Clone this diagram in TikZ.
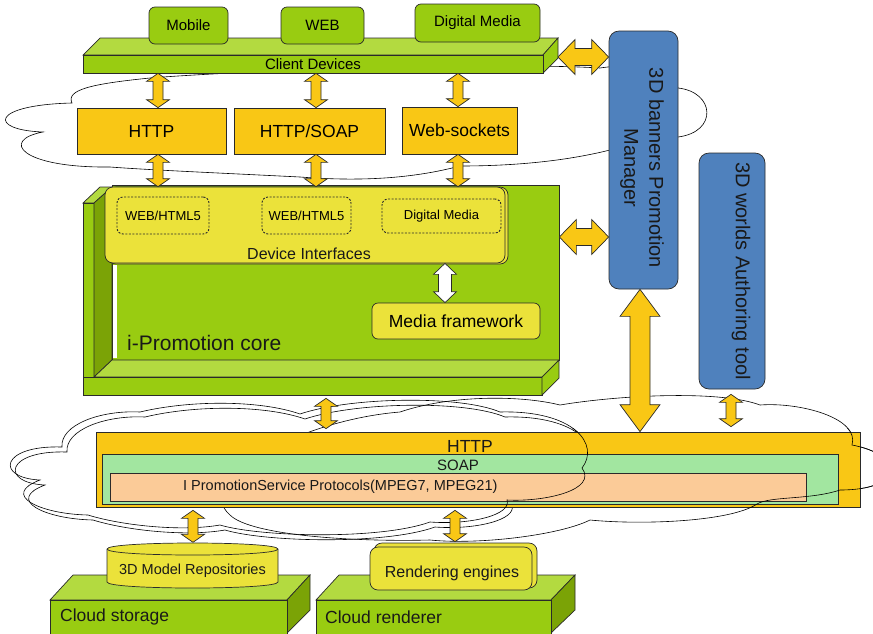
\documentclass[tikz,border=0pt]{standalone}
\usepackage{fontspec}
\setmainfont{Liberation Sans}
\usetikzlibrary{calc}
\definecolor{cgreen}{HTML}{99CC11}
\definecolor{cgreenlt}{HTML}{B3DA40}
\definecolor{cgreendk}{HTML}{7BA306}
\definecolor{corange}{HTML}{F9C715}
\definecolor{cyellow}{HTML}{EBE23A}
\definecolor{cblue}{HTML}{4F81BD}
\definecolor{csoap}{HTML}{A2E6A0}
\definecolor{cpeach}{HTML}{FBCB98}
\definecolor{cline}{HTML}{2A2A2A}
\tikzset{
 base/.style={draw=cline, line width=0.7pt},
 gbox/.style={base, fill=cgreen, rounded corners=6pt, inner sep=0pt},
 obox/.style={base, fill=corange, inner sep=0pt},
 ybox/.style={base, fill=cyellow, rounded corners=8pt, inner sep=0pt},
 dbox/.style={draw=cline, line width=0.9pt, dash pattern=on 2pt off 1.5pt, rounded corners=6pt, inner sep=0pt},
 bbox/.style={base, fill=cblue, rounded corners=10pt, inner sep=0pt},
 arrowfill/.style={base, fill=corange, line join=miter},
 warrow/.style={base, fill=white, line join=miter},
 cloudline/.style={draw=black, line width=0.6pt},
 topface/.style={base, fill=cgreenlt},
 frontface/.style={base, fill=cgreen},
 sideface/.style={base, fill=cgreendk},
 txt/.style={text=black!90, inner sep=0pt},
 f13/.style={font=\fontsize{13pt}{16pt}\selectfont},
 f14/.style={font=\fontsize{14.5pt}{17pt}\selectfont},
 f15/.style={font=\fontsize{15pt}{18pt}\selectfont},
 f16/.style={font=\fontsize{16pt}{19pt}\selectfont},
 f17/.style={font=\fontsize{17.5pt}{21pt}\selectfont},
 f20/.style={font=\fontsize{20pt}{25pt}\selectfont},
 f21/.style={font=\fontsize{21pt}{25pt}\selectfont},
}
% vertical double arrow: style, x, top point, bottom point, half shaft, half head, head length
\newcommand{\vdarrow}[7]{\draw[#1] let \p1=#3, \p2=#4 in (#2pt,\y1) -- (#2pt+#6pt,\y1-#7pt) -- (#2pt+#5pt,\y1-#7pt) -- (#2pt+#5pt,\y2+#7pt) -- (#2pt+#6pt,\y2+#7pt) -- (#2pt,\y2) -- (#2pt-#6pt,\y2+#7pt) -- (#2pt-#5pt,\y2+#7pt) -- (#2pt-#5pt,\y1-#7pt) -- (#2pt-#6pt,\y1-#7pt) -- cycle;}
% horizontal double arrow: style, y, left point, right point, half shaft, half head, head length
\newcommand{\hdarrow}[7]{\draw[#1] let \p1=#3, \p2=#4 in (\x1,-#2pt) -- (\x1+#7pt,-#2pt+#6pt) -- (\x1+#7pt,-#2pt+#5pt) -- (\x2-#7pt,-#2pt+#5pt) -- (\x2-#7pt,-#2pt+#6pt) -- (\x2,-#2pt) -- (\x2-#7pt,-#2pt-#6pt) -- (\x2-#7pt,-#2pt-#5pt) -- (\x1+#7pt,-#2pt-#5pt) -- (\x1+#7pt,-#2pt-#6pt) -- cycle;}
\newcommand{\cloudLpath}{(40,480) .. controls (-5,478) and (0,445) .. (62,447) .. controls (60,425) and (100,410) .. (140,412) .. controls (190,400) and (260,400) .. (300,414) .. controls (350,397) and (460,395) .. (500,412) .. controls (575,410) and (600,445) .. (582,468) .. controls (598,490) and (545,502) .. (507,500) .. controls (512,515) and (470,525) .. (430,522) .. controls (380,540) and (260,537) .. (220,525) .. controls (180,532) and (120,525) .. (88,515) .. controls (40,514) and (0,495) .. (40,480) -- cycle}
\newcommand{\cloudRpath}{(230,515) .. controls (190,480) and (300,420) .. (400,412) .. controls (450,395) and (520,395) .. (560,405) .. controls (620,395) and (720,390) .. (760,405) .. controls (800,402) and (860,418) .. (852,445) .. controls (905,455) and (905,490) .. (840,490) .. controls (810,500) and (770,496) .. (757,504) .. controls (730,522) and (640,525) .. (590,520) .. controls (560,535) and (480,545) .. (430,540) .. controls (350,542) and (250,535) .. (230,515) -- cycle}
\begin{document}
\begin{tikzpicture}[x=1pt,y=-1pt]
\useasboundingbox (0,0) rectangle (873,633);

% ---------- top cloud
\draw[cloudline] (43,132) .. controls (-12,130) and (-10,105) .. (72,103)
 .. controls (66,90) and (90,84) .. (150,78)
 .. controls (250,70) and (500,62) .. (600,68)
 .. controls (640,62) and (675,70) .. (678,88)
 .. controls (715,92) and (718,132) .. (678,137)
 .. controls (660,148) and (640,150) .. (610,150)
 .. controls (570,160) and (520,166) .. (460,166)
 .. controls (400,182) and (340,180) .. (300,177)
 .. controls (220,173) and (150,170) .. (110,167)
 .. controls (20,168) and (0,140) .. (43,132) -- cycle;

% ---------- client devices slab
\draw[topface] (83,55) -- (100,38) -- (558,38) -- (543,55) -- cycle;
\draw[frontface] (543,55) -- (558,38) -- (558,58) -- (543,73) -- cycle;
\node[frontface, minimum width=460, minimum height=18, inner sep=0pt, f15] (cd) at (313,64) {Client Devices};
\coordinate (cdright) at (558,57);

\node[gbox, minimum width=79, minimum height=37, f15] (mobile) at (188.5,25.5) {Mobile};
\node[gbox, minimum width=83, minimum height=37, f15] (web) at (322.5,25.5) {WEB};
\node[gbox, minimum width=125, minimum height=38, f15] (dm) at (477.5,23) {Digital Media};

% ---------- protocol boxes
\node[obox, minimum width=149, minimum height=46, f17] (http) at (151.5,131) {HTTP};
\node[obox, minimum width=151, minimum height=46, f17] (hs) at (309.5,131) {HTTP/SOAP};
\node[obox, minimum width=115, minimum height=47, f17] (ws) at (459.5,130.5) {Web-sockets};

% ---------- i-Promotion core
\node[frontface, minimum width=447, minimum height=175, inner sep=0pt] (corewall) at (335.5,272.5) {};
\fill[white] (112.5,265) rectangle (117,358);
\draw[topface] (83,203) -- (100,187) -- (112,187) -- (94,203) -- cycle;
\draw[frontface] (83,203) rectangle (94,377);
\draw[sideface] (94,203) -- (112,187) -- (112,360) -- (94,377) -- cycle;
\draw[topface] (94,377) -- (112,360) -- (559,360) -- (542,377) -- cycle;
\node[frontface, minimum width=459, minimum height=18, inner sep=0pt] (corefloor) at (312.5,386) {};
\draw[frontface] (542,377) -- (559,360) -- (559,378) -- (542,395) -- cycle;
\node[txt, anchor=west, f21] (coretxt) at (127,343) {i-Promotion core};

\draw[ybox] (108,187) rectangle (508,264);
\node[ybox, minimum width=400, minimum height=76] (di) at (305,225) {};
\node[txt, f16] (ditxt) at (309,254) {Device Interfaces};
\node[dbox, minimum width=92, minimum height=37, f13] (d1) at (163,215.5) {WEB/HTML5};
\node[dbox, minimum width=89, minimum height=37, f13] (d2) at (306.5,215.5) {WEB/HTML5};
\node[dbox, minimum width=119, minimum height=34, f13] (d3) at (441.5,216) {Digital Media};
\node[ybox, rounded corners=6pt, minimum width=168, minimum height=36, f17] (mf) at (456,321) {Media framework};

% ---------- blue boxes
\node[bbox, minimum width=69, minimum height=258] (pm) at (643.5,160) {};
\node[txt, rotate=-90, align=center, f20] (pmtxt) at (642,168) {3D banners Promotion\\Manager};
\node[bbox, minimum width=66, minimum height=236] (auth) at (732,271) {};
\node[txt, rotate=-90, f20] (authtxt) at (741,271) {3D worlds Authoring tool};

% ---------- bottom clouds
\draw[cloudline] \cloudLpath;
\draw[cloudline, shift={(5,5)}] \cloudLpath;
\draw[cloudline] \cloudRpath;

% ---------- service bar
\node[obox, minimum width=764, minimum height=75] (bar) at (478,469.5) {};
\node[txt, f17] (bartxt) at (470,446) {HTTP};
\node[base, fill=csoap, minimum width=736, minimum height=50, inner sep=0pt] (soap) at (470,479) {};
\node[txt, f15] (soaptxt) at (458,465) {SOAP};
\node[base, fill=cpeach, minimum width=696, minimum height=28, inner sep=0pt] (proto) at (458,487) {};
\node[txt, anchor=west, f14] (prototxt) at (183,487) {I PromotionService Protocols(MPEG7, MPEG21)};

\begin{scope}
\clip (500,428) rectangle (873,507);
\draw[cloudline] \cloudLpath;
\draw[cloudline] \cloudRpath;
\end{scope}

% ---------- cloud storage / renderer
\draw[topface] (50,600) -- (73,575) -- (310,575) -- (287,600) -- cycle;
\draw[sideface] (287,600) -- (310,575) -- (310,610) -- (287,633) -- cycle;
\node[frontface, minimum width=237, minimum height=36, inner sep=0pt] (cs) at (168.5,618) {};
\node[txt, anchor=west, f17] (cstxt) at (60,617) {Cloud storage};

\draw[topface] (316,600) -- (339,575) -- (575,575) -- (551,600) -- cycle;
\draw[sideface] (551,600) -- (575,575) -- (575,610) -- (551,633) -- cycle;
\node[frontface, minimum width=235, minimum height=36, inner sep=0pt] (cr) at (433.5,618) {};
\node[txt, anchor=west, f17] (crtxt) at (325,617) {Cloud renderer};

\draw[base, fill=cyellow] (107,549) -- (107,582) .. controls (107,590) and (278,590) .. (278,582) -- (278,549) .. controls (278,541) and (107,541) .. (107,549) -- cycle;
\draw[base] (107,549) .. controls (107,557) and (278,557) .. (278,549);
\node[minimum width=171, minimum height=47, inner sep=0pt] (cyl) at (192.5,566) {};
\node[txt, f14] (cyltxt) at (192.5,571) {3D Model Repositories};

\draw[ybox] (374,543) rectangle (537,588);
\node[ybox, minimum width=162, minimum height=43] (re) at (451,568.5) {};
\node[txt, f16] (retxt) at (452,573) {Rendering engines};

% ---------- connectors
\vdarrow{arrowfill}{158}{(cd.south)}{(http.north)}{5}{11.5}{8}
\vdarrow{arrowfill}{316}{(cd.south)}{(hs.north)}{5}{11.5}{8}
\vdarrow{arrowfill}{458}{(cd.south)}{(ws.north)}{5}{11.5}{8}
\vdarrow{arrowfill}{158}{(http.south)}{(di.north)}{5}{11.5}{8}
\vdarrow{arrowfill}{316}{(hs.south)}{(di.north)}{5}{11.5}{8}
\vdarrow{arrowfill}{458}{(ws.south)}{(di.north)}{5}{11.5}{8}
\vdarrow{warrow}{445}{(di.south)}{(mf.north)}{6.5}{11.5}{11}
\hdarrow{arrowfill}{57}{(cdright)}{(pm.west)}{8.5}{17.5}{17}
\hdarrow{arrowfill}{237}{(corewall.east)}{(pm.west)}{8.5}{17.5}{17}
\vdarrow{arrowfill}{640}{(pm.south)}{(bar.north)}{10}{20}{27}
\vdarrow{arrowfill}{731}{([yshift=-5pt]auth.south)}{([yshift=5pt]bar.north)}{5}{11.5}{8}
\vdarrow{arrowfill}{326}{([yshift=-3pt]corefloor.south)}{([yshift=3pt]bar.north)}{5}{11.5}{8}
\vdarrow{arrowfill}{193}{([yshift=-3pt]bar.south)}{(cyl.north)}{5}{11.5}{8}
\vdarrow{arrowfill}{455}{([yshift=-3pt]bar.south)}{([yshift=5pt]re.north)}{5}{11.5}{8}
\end{tikzpicture}
\end{document}
